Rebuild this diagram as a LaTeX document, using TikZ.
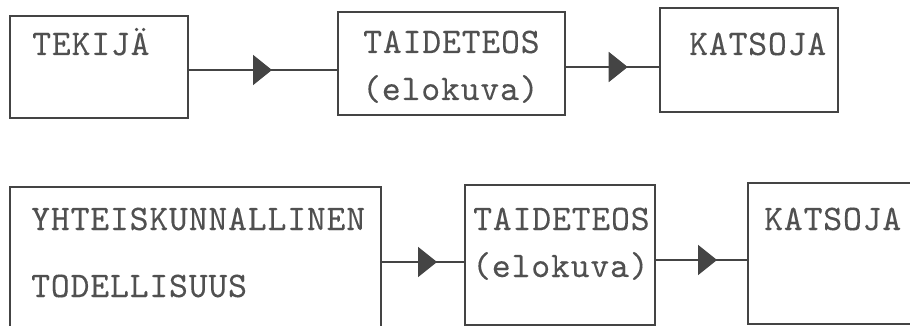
\documentclass[tikz,border=0pt]{standalone}
\usepackage{fontspec}
\setmonofont{lmmono10-regular.otf}[LetterSpace=2.2, FakeBold=0.2]
\usetikzlibrary{arrows.meta,decorations.markings}
\definecolor{ink}{HTML}{444444}
\definecolor{typeink}{HTML}{505050}
\tikzset{
  box/.style={draw=ink, line width=1.8pt, rectangle, inner sep=0pt, outer sep=0pt, anchor=north west},
  lbl/.style={text=typeink, font=\ttfamily\fontsize{36}{42}\selectfont, inner sep=0pt, anchor=base west},
  flow/.style={draw=ink, line width=1.8pt, postaction={decorate},
    decoration={markings, mark=at position #1 with {\arrow[ink]{Triangle[length=19pt,width=30pt]}}}},
}
\begin{document}
\begin{tikzpicture}[x=1pt,y=-1pt]
\useasboundingbox (0,0) rectangle (910,326);
\clip (0,0) rectangle (910,326);

% upper chain
\node[box, minimum width=178pt, minimum height=102pt] (tekija) at (10,16) {};
\node[box, minimum width=227pt, minimum height=103pt] (teosA) at (338,12) {};
\node[box, minimum width=178pt, minimum height=104pt] (katsojaA) at (660,8) {};

\node[lbl] (tTekija) at (32,55) {TEKIJÄ};
\node[lbl] (tTeosA) at (363,53) {TAIDETEOS};
\node[lbl] (tElokuvaA) at (362,100) {(elokuva)};
\node[lbl] (tKatsojaA) at (689,55) {KATSOJA};

\coordinate (rowA1) at (0,70);
\coordinate (rowA2) at (0,67);
\draw[flow=0.56] (tekija.east |- rowA1) -- (teosA.west |- rowA1);
\draw[flow=0.66] (teosA.east |- rowA2) -- (katsojaA.west |- rowA2);

% lower chain
\node[box, minimum width=371pt, minimum height=160pt] (todellisuus) at (10,187) {};
\node[box, minimum width=190pt, minimum height=140pt] (teosB) at (465,185) {};
\node[box, minimum width=200pt, minimum height=141pt] (katsojaB) at (748,183) {};

\node[lbl] (tYhteis) at (31,230) {YHTEISKUNNALLINEN};
\node[lbl] (tTodell) at (31,297) {TODELLISUUS};
\node[lbl] (tTeosB) at (473,230) {TAIDETEOS};
\node[lbl] (tElokuvaB) at (472,277) {(elokuva)};
\node[lbl] (tKatsojaB) at (764,230) {KATSOJA};

\coordinate (rowB1) at (0,262);
\coordinate (rowB2) at (0,260);
\draw[flow=0.667] (todellisuus.east |- rowB1) -- (teosB.west |- rowB1);
\draw[flow=0.667] (teosB.east |- rowB2) -- (katsojaB.west |- rowB2);
\end{tikzpicture}
\end{document}
